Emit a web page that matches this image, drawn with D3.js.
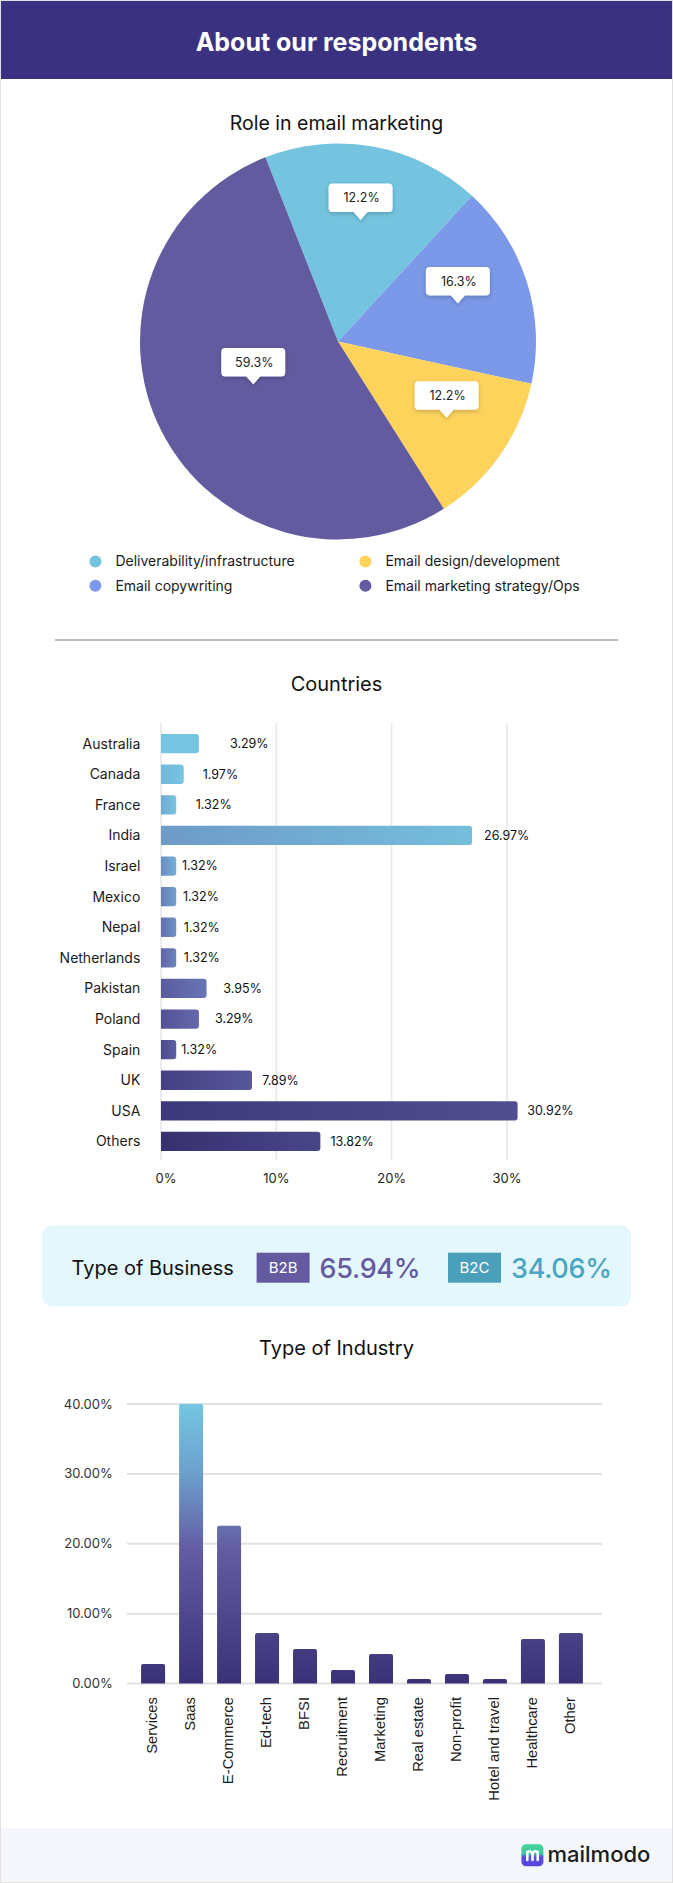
<!DOCTYPE html>
<html><head><meta charset="utf-8">
<script src="https://cdn.jsdelivr.net/npm/d3@7"></script>
<style>
html,body{margin:0;padding:0;background:#fff;}
svg{display:block;font-family:Inter,"Noto Sans",sans-serif;}
</style></head><body>
<svg id="c" width="673" height="1883"></svg>
<script>
// ---------------- DATA ----------------
const roles = ["Deliverability/infrastructure","Email copywriting","Email design/development","Email marketing strategy/Ops"];
// slice sizes as drawn in the picture (share of the circle, %)
const roleSliceShare = [17.8, 16.6, 12.6, 53.0];
// labels printed on the callouts
const roleLabels = ["12.2%","16.3%","12.2%","59.3%"];

const countries = ["Australia","Canada","France","India","Israel","Mexico","Nepal","Netherlands","Pakistan","Poland","Spain","UK","USA","Others"];
const countryShare = [3.29,1.97,1.32,26.97,1.32,1.32,1.32,1.32,3.95,3.29,1.32,7.89,30.92,13.82];
const countryTicks = [0,10,20,30];

const businessTypes = ["B2B","B2C"];
const businessShare = [65.94,34.06];

const industries = ["Services","Saas","E-Commerce","Ed-tech","BFSI","Recruitment","Marketing","Real estate","Non-profit","Hotel and travel","Healthcare","Other"];
const industryShare = [2.79,40.0,22.56,7.23,4.94,1.93,4.23,0.64,1.36,0.64,6.38,7.23];
const industryTicks = [0,10,20,30,40];

// ---------------- DRAW ----------------
const W = 673, H = 1883;
const svg = d3.select("#c");
const defs = svg.append("defs");
const flt = defs.append("filter").attr("id","shadow").attr("x","-40%").attr("y","-40%").attr("width","180%").attr("height","200%");
flt.append("feDropShadow").attr("dx",0).attr("dy",1.5).attr("stdDeviation",2.2).attr("flood-color","#000").attr("flood-opacity",0.22);

// Header
svg.append("rect").attr("x",0).attr("y",0).attr("width",W).attr("height",79).attr("fill","#3a3281");
svg.append("text").attr("x",336.5).attr("y",51).attr("text-anchor","middle")
  .attr("fill","#fff").attr("font-size",25).attr("font-weight",700).text("About our respondents");

// ---- Pie ----
svg.append("text").attr("x",336.5).attr("y",130).attr("text-anchor","middle")
  .attr("fill","#111").attr("font-size",19.5).text("Role in email marketing");

const roleColors = ["#74c4df","#7b99e8","#fdd35c","#625ba0"];
const R = 198, cx = 338, cy = 341.5;
const start = -21.5*Math.PI/180;
const pie = d3.pie().sort(null).value(d=>d).startAngle(start).endAngle(start+2*Math.PI);
const arcs = pie(roleSliceShare);
const arc = d3.arc().innerRadius(0).outerRadius(R);
const pg = svg.append("g").attr("transform",`translate(${cx},${cy})`);
pg.selectAll("path.slice").data(arcs).join("path").attr("class","slice")
  .attr("d",arc).attr("fill",(d,i)=>roleColors[i]);

const labelRadiusFactor = [0.624,0.635,0.67,0.48];
const cw = 64, ch = 28.5, ph = 8, pw = 7;
arcs.forEach((a,i)=>{
  const m = (a.startAngle+a.endAngle)/2;
  const tx = Math.sin(m)*R*labelRadiusFactor[i], ty = -Math.cos(m)*R*labelRadiusFactor[i];
  const g = pg.append("g").attr("filter","url(#shadow)");
  const r = 4, x0 = tx-cw/2, x1 = tx+cw/2, y0 = ty-ph-ch, y1 = ty-ph;
  const p = `M${x0+r},${y0} H${x1-r} Q${x1},${y0} ${x1},${y0+r} V${y1-r} Q${x1},${y1} ${x1-r},${y1} H${tx+pw} L${tx},${ty} L${tx-pw},${y1} H${x0+r} Q${x0},${y1} ${x0},${y1-r} V${y0+r} Q${x0},${y0} ${x0+r},${y0} Z`;
  g.append("path").attr("d",p).attr("fill","#fff");
  pg.append("text").attr("x",tx+1).attr("y",(y0+y1)/2).attr("dy","0.36em").attr("text-anchor","middle")
    .attr("font-size",12.5).attr("fill","#222").text(roleLabels[i]);
});

// Legend (column-major, 2 columns)
const lg = svg.append("g");
roles.forEach((name,i)=>{
  const col = Math.floor(i/2), row = i%2;
  const x = 95.4 + col*270, y = 561.5 + row*24.2;
  lg.append("circle").attr("cx",x).attr("cy",y).attr("r",6).attr("fill",roleColors[i]);
  lg.append("text").attr("x",x+20).attr("y",y).attr("dy","0.35em").attr("font-size",14).attr("fill","#1a1a1a").text(name);
});

// Divider
svg.append("line").attr("x1",55).attr("x2",618).attr("y1",640).attr("y2",640).attr("stroke","#bdbdbd").attr("stroke-width",2);

// ---- Countries ----
svg.append("text").attr("x",336.5).attr("y",691).attr("text-anchor","middle")
  .attr("fill","#111").attr("font-size",20).text("Countries");

const xC = d3.scaleLinear().domain([0,40]).range([161,161+4*115.33]);
const yC = d3.scaleBand().domain(countries).range([728.35,728.35+14*30.6]).paddingInner(0.369).paddingOuter(0.185);
const cg = svg.append("g");
cg.selectAll("line.grid").data(countryTicks).join("line").attr("class","grid")
  .attr("x1",d=>xC(d)).attr("x2",d=>xC(d)).attr("y1",723).attr("y2",1160)
  .attr("stroke","#e6e6e6").attr("stroke-width",1.5);
cg.selectAll("text.tick").data(countryTicks).join("text").attr("class","tick")
  .attr("x",d=>xC(d)+(d===0?5:0)).attr("y",1183).attr("text-anchor","middle")
  .attr("font-size",13).attr("fill","#222").text(d=>d+"%");

const rowColor = d3.scaleLinear().domain([0,6.5,13]).range(["#76c5e0","#6568ad","#37306f"]).interpolate(d3.interpolateRgb).clamp(true);
countries.forEach((c,i)=>{
  const gr = defs.append("linearGradient").attr("id","gc"+i).attr("x1",0).attr("x2",1).attr("y1",0).attr("y2",0);
  gr.append("stop").attr("offset",0).attr("stop-color",rowColor(i));
  gr.append("stop").attr("offset",1).attr("stop-color",rowColor(i-2.5));
});
function hbar(x0,x1,y,h,r){
  r = Math.min(r,(x1-x0)/2);
  return `M${x0},${y} H${x1-r} Q${x1},${y} ${x1},${y+r} V${y+h-r} Q${x1},${y+h} ${x1-r},${y+h} H${x0} Z`;
}
cg.selectAll("path.bar").data(countryShare).join("path").attr("class","bar")
  .attr("d",(d,i)=>hbar(xC(0),xC(d),yC(countries[i]),yC.bandwidth(),3))
  .attr("fill",(d,i)=>`url(#gc${i})`);
cg.selectAll("text.cat").data(countries).join("text").attr("class","cat")
  .attr("x",140.3).attr("y",d=>yC(d)+yC.bandwidth()/2).attr("dy","0.35em").attr("text-anchor","end")
  .attr("font-size",14).attr("fill","#1a1a1a").text(d=>d);
const valueLabelGap = [31,19,19.5,12,5.7,6.8,7.6,7.6,16.8,16,5,10.3,9.6,10];
cg.selectAll("text.val").data(countryShare).join("text").attr("class","val")
  .attr("x",(d,i)=>xC(d)+valueLabelGap[i]).attr("y",(d,i)=>yC(countries[i])+yC.bandwidth()/2).attr("dy","0.35em")
  .attr("font-size",12.5).attr("fill","#111").text(d=>d.toFixed(2)+"%");

// ---- Type of Business ----
svg.append("rect").attr("x",42).attr("y",1225.5).attr("width",589).attr("height",81).attr("rx",10).attr("fill","#e4f7fd");
svg.append("text").attr("x",71.5).attr("y",1275).attr("font-size",20).attr("fill","#111").text("Type of Business");
const bizColors = ["#635aa0","#4a9fba"], bizText = ["#635aa0","#4aa5c0"];
const bizX = [256.6,448];
businessTypes.forEach((b,i)=>{
  svg.append("rect").attr("x",bizX[i]).attr("y",1252.7).attr("width",53).attr("height",30).attr("fill",bizColors[i]);
  svg.append("text").attr("x",bizX[i]+26.5).attr("y",1267.7).attr("dy","0.36em").attr("text-anchor","middle")
    .attr("font-size",15).attr("fill","#fff").text(b);
  svg.append("text").attr("x",bizX[i]+63).attr("y",1277.7).attr("font-size",27).attr("font-weight",500)
    .attr("letter-spacing",-0.3).attr("fill",bizText[i])
    .text(businessShare[i].toFixed(2)+"%");
});

// ---- Type of Industry ----
svg.append("text").attr("x",336.5).attr("y",1355).attr("text-anchor","middle")
  .attr("fill","#111").attr("font-size",20).text("Type of Industry");
const yI = d3.scaleLinear().domain([0,40]).range([1683.5,1404]);
const xI = d3.scaleBand().domain(industries).range([134.1,589.9]).paddingInner(0.368).paddingOuter(0.184);
const ig = svg.append("g");
ig.selectAll("line.grid").data(industryTicks).join("line").attr("class","grid")
  .attr("x1",127).attr("x2",602).attr("y1",d=>yI(d)).attr("y2",d=>yI(d))
  .attr("stroke","#e1e1e1").attr("stroke-width",2);
ig.selectAll("text.tick").data(industryTicks).join("text").attr("class","tick")
  .attr("x",112.7).attr("y",d=>yI(d)).attr("dy","0.35em").attr("text-anchor","end")
  .attr("font-size",13).attr("fill","#333").text(d=>d.toFixed(2)+"%");
const gi = defs.append("linearGradient").attr("id","gi").attr("gradientUnits","userSpaceOnUse")
  .attr("x1",0).attr("x2",0).attr("y1",yI(40)).attr("y2",yI(0));
[[0,"#75c6e1"],[0.25,"#6d9fcb"],[0.52,"#635ca2"],[1,"#3a3276"]].forEach(s=>gi.append("stop").attr("offset",s[0]).attr("stop-color",s[1]));
function vbar(x,w,y0,y1,r){
  r = Math.min(r,(y0-y1)/2,w/2);
  return `M${x},${y0} V${y1+r} Q${x},${y1} ${x+r},${y1} H${x+w-r} Q${x+w},${y1} ${x+w},${y1+r} V${y0} Z`;
}
ig.selectAll("path.bar").data(industryShare).join("path").attr("class","bar")
  .attr("d",(d,i)=>vbar(xI(industries[i]),xI.bandwidth(),yI(0),yI(d),2))
  .attr("fill","url(#gi)");
ig.selectAll("text.cat").data(industries).join("text").attr("class","cat")
  .attr("transform",d=>`translate(${xI(d)+xI.bandwidth()/2-1.5},1697) rotate(-90)`)
  .attr("dy","0.35em").attr("text-anchor","end").attr("font-family","'Liberation Sans',Arial,sans-serif")
  .attr("font-size",14.8).attr("fill","#1a1a1a").text(d=>d);

// ---- Footer ----
svg.append("rect").attr("x",0).attr("y",1828).attr("width",W).attr("height",H-1828).attr("fill","#f6f7fc");
const lgG = defs.append("linearGradient").attr("id","logo").attr("x1",0).attr("x2",0).attr("y1",0).attr("y2",1);
[[0,"#45d49a"],[0.42,"#3fc9a0"],[0.58,"#5a4ce2"],[1,"#5744de"]].forEach(s=>lgG.append("stop").attr("offset",s[0]).attr("stop-color",s[1]));
const lx = 521.4, ly = 1844.3;
svg.append("rect").attr("x",lx).attr("y",ly).attr("width",22).attr("height",22).attr("rx",4.5).attr("fill","url(#logo)");
[[4.6,6.5,10.5],[9.8,9,8],[15,6.5,10.5]].forEach(b=>{
  svg.append("rect").attr("x",lx+b[0]).attr("y",ly+b[1]).attr("width",2.6).attr("height",b[2]).attr("rx",1.3).attr("fill","#fff");
});
svg.append("path").attr("d",`M${lx+5.9},${ly+8} Q${lx+8.5},${ly+5} ${lx+11.1},${ly+9.5} Q${lx+13.5},${ly+5} ${lx+16.3},${ly+8}`)
  .attr("fill","none").attr("stroke","#fff").attr("stroke-width",2.4).attr("stroke-linecap","round");
svg.append("text").attr("x",547.5).attr("y",1862).attr("font-size",22).attr("font-weight",500).attr("fill","#1c1c1c").text("mailmodo");

// Border
svg.append("rect").attr("x",0.5).attr("y",0.5).attr("width",W-1).attr("height",H-1).attr("fill","none").attr("stroke","#e0e0e0");
</script>
</body></html>
